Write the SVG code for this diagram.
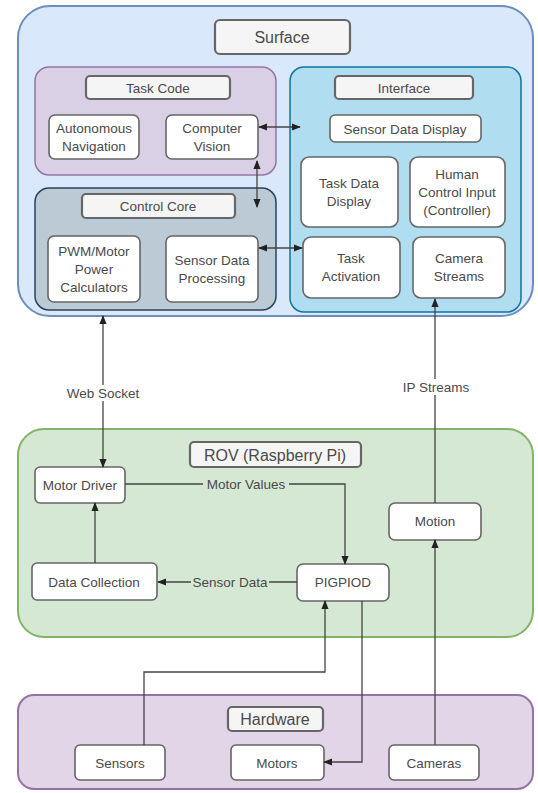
<svg xmlns="http://www.w3.org/2000/svg" width="538" height="793" viewBox="0 0 538 793">
<style>
text{font-family:"Liberation Sans",Arial,sans-serif;font-size:13.5px;fill:#4a4a4a;text-anchor:middle;dominant-baseline:central}
.title{font-size:16px}
.node{fill:#fff;stroke:#666;stroke-width:1.6}
.lbl{fill:#f5f5f5;stroke:#666;stroke-width:2.2}
.edge{fill:none;stroke:#444;stroke-width:1.3}
</style>
<defs>
<marker id="ah" viewBox="0 0 10 10" refX="9" refY="5" markerWidth="7" markerHeight="7" orient="auto-start-reverse">
<path d="M0,1 L10,5 L0,9 z" fill="#222"/>
</marker>
</defs>
<rect width="538" height="793" fill="#fff"/>

<g id="surface">
<rect x="18" y="6" width="515" height="310" rx="32" fill="#dae8fc" stroke="#6c8ebf" stroke-width="2"/>
<rect class="lbl" x="215" y="20" width="135" height="34" rx="5"/>
<text class="title" x="282" y="37">Surface</text>
</g>

<g id="taskcode">
<rect x="35" y="67" width="241" height="108" rx="14" fill="#d9d0e6" stroke="#9673a6" stroke-width="1.5"/>
<rect class="lbl" x="86" y="76" width="144" height="23" rx="4"/>
<text x="158" y="88">Task Code</text>
</g>
<g id="autonav">
<rect class="node" x="49" y="115" width="90" height="44" rx="6"/>
<text x="94" y="128">Autonomous</text>
<text x="94" y="146">Navigation</text>
</g>
<g id="cv">
<rect class="node" x="166" y="115" width="92" height="44" rx="6"/>
<text x="212" y="128">Computer</text>
<text x="212" y="146">Vision</text>
</g>

<g id="controlcore">
<rect x="35" y="188" width="241" height="122" rx="14" fill="#bccad5" stroke="#23445d" stroke-width="1.5"/>
<rect class="lbl" x="82" y="194" width="153" height="24" rx="4"/>
<text x="158" y="206">Control Core</text>
</g>
<g id="pwm">
<rect class="node" x="48" y="236" width="92" height="66" rx="6"/>
<text x="94" y="251">PWM/Motor</text>
<text x="94" y="269">Power</text>
<text x="94" y="287">Calculators</text>
</g>
<g id="sdp">
<rect class="node" x="166" y="236" width="92" height="66" rx="6"/>
<text x="212" y="260">Sensor Data</text>
<text x="212" y="278">Processing</text>
</g>

<g id="interface">
<rect x="290" y="67" width="231" height="245" rx="14" fill="#b1ddf0" stroke="#10739e" stroke-width="1.5"/>
<rect class="lbl" x="335" y="76" width="138" height="23" rx="4"/>
<text x="404" y="88">Interface</text>
</g>
<g id="sdd">
<rect class="node" x="330" y="115" width="151" height="27" rx="5"/>
<text x="405" y="129">Sensor Data Display</text>
</g>
<g id="tdd">
<rect class="node" x="301" y="157" width="97" height="70" rx="8"/>
<text x="349" y="183">Task Data</text>
<text x="349" y="201">Display</text>
</g>
<g id="hci">
<rect class="node" x="410" y="157" width="95" height="70" rx="8"/>
<text x="457" y="174">Human</text>
<text x="457" y="192">Control Input</text>
<text x="457" y="210">(Controller)</text>
</g>
<g id="ta">
<rect class="node" x="303" y="237" width="97" height="61" rx="8"/>
<text x="351" y="258">Task</text>
<text x="351" y="276">Activation</text>
</g>
<g id="cs">
<rect class="node" x="413" y="237" width="92" height="61" rx="8"/>
<text x="459" y="258">Camera</text>
<text x="459" y="276">Streams</text>
</g>

<g id="rov">
<rect x="18" y="429" width="515" height="208" rx="26" fill="#d5e8d4" stroke="#82b366" stroke-width="2"/>
<rect class="lbl" x="190" y="442" width="171" height="25" rx="4"/>
<text class="title" x="275" y="455">ROV (Raspberry Pi)</text>
</g>
<g id="motordriver">
<rect class="node" x="35" y="467" width="90" height="36" rx="5"/>
<text x="80" y="485">Motor Driver</text>
</g>
<g id="datacollection">
<rect class="node" x="32" y="563" width="125" height="37" rx="5"/>
<text x="94" y="582">Data Collection</text>
</g>
<g id="motion">
<rect class="node" x="389" y="503" width="92" height="37" rx="6"/>
<text x="435" y="521">Motion</text>
</g>
<g id="pigpiod">
<rect class="node" x="297" y="564" width="92" height="37" rx="6"/>
<text x="343" y="582">PIGPIOD</text>
</g>

<g id="hardware">
<rect x="18" y="695" width="515" height="94" rx="16" fill="#e1d5e7" stroke="#9673a6" stroke-width="2"/>
<rect class="lbl" x="228" y="707" width="95" height="24" rx="4"/>
<text class="title" x="275" y="719">Hardware</text>
</g>
<g id="sensors">
<rect class="node" x="75" y="745" width="90" height="35" rx="5"/>
<text x="120" y="763">Sensors</text>
</g>
<g id="motors">
<rect class="node" x="231" y="745" width="93" height="35" rx="5"/>
<text x="277" y="763">Motors</text>
</g>
<g id="cameras">
<rect class="node" x="389" y="745" width="90" height="35" rx="5"/>
<text x="434" y="763">Cameras</text>
</g>

<g id="connectors">
<path class="edge" d="M259,127 H300" marker-start="url(#ah)" marker-end="url(#ah)"/>
<path class="edge" d="M257,161 V207" marker-start="url(#ah)" marker-end="url(#ah)"/>
<path class="edge" d="M259,248 H302" marker-start="url(#ah)" marker-end="url(#ah)"/>
<path class="edge" d="M103,316 V467" marker-start="url(#ah)" marker-end="url(#ah)"/>
<rect x="60" y="385" width="86" height="16" fill="#fff"/>
<text x="103" y="393">Web Socket</text>
<path class="edge" d="M435,503 V299" marker-end="url(#ah)"/>
<rect x="398" y="379" width="76" height="16" fill="#fff"/>
<text x="436" y="387">IP Streams</text>
<path class="edge" d="M125,484 H345 V564" marker-end="url(#ah)"/>
<rect x="203" y="477" width="86" height="15" fill="#d5e8d4"/>
<text x="246" y="484">Motor Values</text>
<path class="edge" d="M95,563 V503" marker-end="url(#ah)"/>
<path class="edge" d="M297,582 H158" marker-end="url(#ah)"/>
<rect x="191" y="575" width="78" height="15" fill="#d5e8d4"/>
<text x="230" y="582">Sensor Data</text>
<path class="edge" d="M144,745 V672 H325 V601" marker-end="url(#ah)"/>
<path class="edge" d="M362,601 V762 H324" marker-end="url(#ah)"/>
<path class="edge" d="M435,745 V540" marker-end="url(#ah)"/>
</g>
</svg>
